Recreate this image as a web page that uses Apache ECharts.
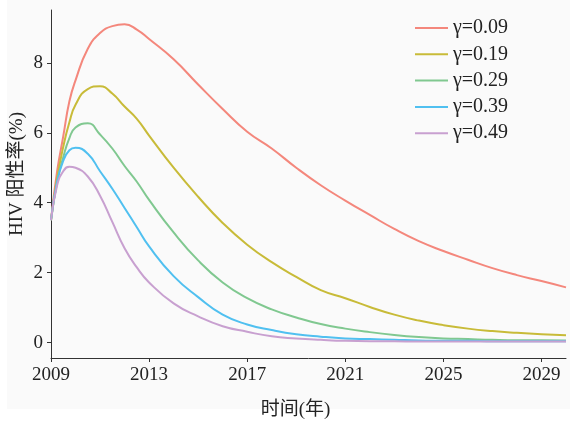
<!DOCTYPE html>
<html>
<head>
<meta charset="utf-8">
<script src="https://cdn.jsdelivr.net/npm/echarts@6/dist/echarts.min.js"></script>
<style>
html,body{margin:0;padding:0;background:#ffffff;}
#chart{width:570px;height:424px;}
</style>
</head>
<body>
<div id="chart"></div>
<script>
const years = [2009, 2009.25, 2009.5, 2009.75, 2010, 2010.5, 2011, 2011.5, 2012, 2012.5, 2013, 2014, 2015, 2016, 2017, 2018, 2019, 2020, 2021, 2022, 2023, 2024, 2025, 2026, 2027, 2028, 2029, 2030];
const seriesNames = ['γ=0.09', 'γ=0.19', 'γ=0.29', 'γ=0.39', 'γ=0.49'];
const g009 = [3.5, 4.9, 5.9, 6.9, 7.5, 8.4, 8.85, 9.05, 9.1, 8.95, 8.68, 8.1, 7.38, 6.68, 6.03, 5.55, 5.0, 4.5, 4.06, 3.65, 3.25, 2.9, 2.62, 2.37, 2.13, 1.93, 1.76, 1.58];
const g019 = [3.5, 4.7, 5.6, 6.3, 6.8, 7.25, 7.33, 7.12, 6.75, 6.4, 5.92, 5.0, 4.17, 3.42, 2.8, 2.3, 1.88, 1.5, 1.27, 1.02, 0.8, 0.63, 0.5, 0.4, 0.33, 0.28, 0.24, 0.21];
const g029 = [3.5, 4.6, 5.3, 5.85, 6.15, 6.27, 5.95, 5.55, 5.05, 4.6, 4.08, 3.15, 2.35, 1.72, 1.27, 0.95, 0.72, 0.53, 0.4, 0.3, 0.22, 0.16, 0.12, 0.1, 0.08, 0.07, 0.07, 0.06];
const g039 = [3.5, 4.6, 5.2, 5.5, 5.57, 5.4, 4.9, 4.4, 3.85, 3.3, 2.75, 1.9, 1.3, 0.8, 0.52, 0.36, 0.24, 0.17, 0.12, 0.1, 0.08, 0.06, 0.05, 0.05, 0.04, 0.04, 0.04, 0.04];
const g049 = [3.5, 4.5, 4.9, 5.03, 5.0, 4.75, 4.2, 3.45, 2.7, 2.15, 1.72, 1.12, 0.75, 0.47, 0.31, 0.18, 0.12, 0.08, 0.05, 0.04, 0.04, 0.03, 0.03, 0.03, 0.03, 0.03, 0.03, 0.03];
const xTicks = [2009, 2013, 2017, 2021, 2025, 2029];
const yTicks = [0, 2, 4, 6, 8];
const colors = ['#F4877C', '#C8BB38', '#80C890', '#50C0F0', '#C8A0D0'];

const allValues = [g009, g019, g029, g039, g049];
const FONT = '"Liberation Serif", "Noto Sans CJK SC", serif';

const chart = echarts.init(document.getElementById('chart'), null, {renderer: 'canvas'});
chart.setOption({
  animation: false,
  backgroundColor: '#ffffff',
  graphic: [{
    type: 'rect', z: -10, silent: true,
    shape: {x: 7, y: 0, width: 563, height: 409},
    style: {fill: '#fafafa'}
  }],
  color: colors,
  grid: {left: 51, right: 4, top: 10, bottom: 66, containLabel: false, outerBoundsMode: 'none'},
  legend: {
    orient: 'vertical',
    left: 410, top: 13,
    icon: 'rect', itemWidth: 33, itemHeight: 2,
    itemGap: 6.3,
    textStyle: {fontFamily: FONT, fontSize: 20, color: '#222', lineHeight: 20},
    data: seriesNames
  },
  xAxis: {
    type: 'value', min: 2009, max: 2030,
    name: '时间(年)', nameLocation: 'middle', nameGap: 43, nameMoveOverlap: false,
    nameTextStyle: {fontFamily: FONT, fontSize: 19, color: '#222', padding: [0, 26, 0, 0]},
    axisLine: {show: true, onZero: false, lineStyle: {color: '#333', width: 1}},
    axisTick: {show: true, length: 4, lineStyle: {color: '#333'}, customValues: xTicks},
    axisLabel: {fontFamily: FONT, fontSize: 19, color: '#222', margin: 8, customValues: xTicks, formatter: v => String(v)},
    splitLine: {show: false}
  },
  yAxis: {
    type: 'value', min: -0.44, max: 9.51,
    name: 'HIV 阳性率(%)', nameLocation: 'middle', nameGap: 24, nameRotate: 90, nameMoveOverlap: false,
    nameTextStyle: {fontFamily: FONT, fontSize: 19, color: '#222', padding: [0, 0, 0, 20]},
    axisLine: {show: true, onZero: false, lineStyle: {color: '#333', width: 1}},
    axisTick: {show: true, length: 4, lineStyle: {color: '#333'}, customValues: yTicks},
    axisLabel: {fontFamily: FONT, fontSize: 19, color: '#222', margin: 8, customValues: yTicks},
    splitLine: {show: false}
  },
  series: seriesNames.map((n, i) => ({
    name: n, type: 'line', showSymbol: false, smooth: 0.5,
    lineStyle: {width: 2},
    data: years.map((y, j) => [y, allValues[i][j]])
  }))
});
</script>
</body>
</html>
